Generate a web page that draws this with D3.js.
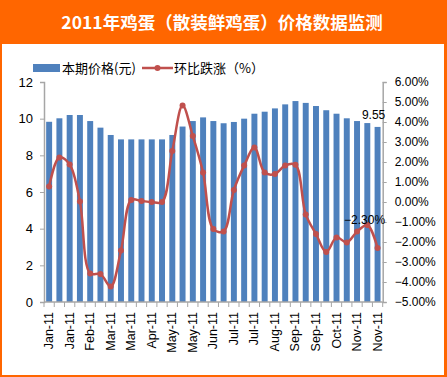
<!DOCTYPE html>
<html>
<head>
<meta charset="utf-8">
<script src="https://cdn.jsdelivr.net/npm/d3@7"></script>
<style>
  body { margin: 0; background: #fff; }
  svg { display: block; }
</style>
</head>
<body>
<div id="chart"></div>
<script>
// weekly egg prices, 2011
const priceValues = [9.83, 10.02, 10.2, 10.2, 9.87, 9.51, 9.11, 8.87, 8.87, 8.87, 8.87,
  8.87, 9.11, 9.57, 9.87, 10.07, 9.87, 9.75, 9.82, 10.0, 10.27, 10.38, 10.56, 10.78,
  10.96, 10.86, 10.69, 10.46, 10.27, 10.02, 9.87, 9.76, 9.55];
const changeValues = [0.77, 2.23, 1.88, 0.02, -3.57, -3.6, -4.23, -2.43, 0.1, 0.05, 0.0,
  0.0, 2.55, 4.82, 3.3, 1.47, -1.35, -1.47, 0.6, 1.82, 2.72, 1.47, 1.4, 1.83,
  1.86, -0.62, -1.6, -2.5, -1.77, -2.02, -1.48, -1.15, -2.3];
// x labels are shown on every other week
const tickLabels = ['Jan-11', 'Jan-11', 'Feb-11', 'Mar-11', 'Mar-11', 'Apr-11', 'May-11',
  'May-11', 'Jun-11', 'Jul-11', 'Jul-11', 'Aug-11', 'Sep-11', 'Sep-11', 'Oct-11',
  'Nov-11', 'Nov-11'];
const leftTicks = [0, 2, 4, 6, 8, 10, 12];
const rightTicks = [-5, -4, -3, -2, -1, 0, 1, 2, 3, 4, 5, 6];

const W = 447, H = 377;
const margin = { top: 82, right: 64.3, bottom: 75, left: 44 };
const width = W - margin.left - margin.right;
const height = H - margin.top - margin.bottom;

const svg = d3.select('#chart').append('svg')
  .attr('width', W)
  .attr('height', H);

// frame + title bar
svg.append('rect').attr('width', W).attr('height', H).attr('fill', '#FF6600');
svg.append('rect').attr('x', 2).attr('y', 44).attr('width', W - 5).attr('height', H - 46)
  .attr('fill', '#fff');
svg.append('text')
  .attr('x', 222).attr('y', 29)
  .attr('text-anchor', 'middle')
  .style('font-family', '"Noto Sans CJK SC", sans-serif')
  .style('font-weight', 'bold')
  .style('font-size', '17.5px')
  .attr('fill', '#fff')
  .text('2011年鸡蛋（散装鲜鸡蛋）价格数据监测');

const g = svg.append('g').attr('transform', `translate(${margin.left},${margin.top})`);

const idx = priceValues.map((_, i) => i);
const x = d3.scaleBand().domain(idx).range([0, width]).paddingInner(0.42).paddingOuter(0.21);
const step = x.step();
const yL = d3.scaleLinear().domain([0, 12]).range([height, 0]);
const yR = d3.scaleLinear().domain([-5, 6]).range([height, 0]);

const axisColor = '#A6A6A6';
const numFont = '"Liberation Sans", Arial, sans-serif';

// bars
g.selectAll('rect.bar')
  .data(priceValues)
  .join('rect')
  .attr('class', 'bar')
  .attr('x', (d, i) => x(i))
  .attr('y', d => yL(d))
  .attr('width', x.bandwidth())
  .attr('height', d => height - yL(d))
  .attr('fill', '#4F81BD');

// left axis
const left = g.append('g')
  .call(d3.axisLeft(yL).tickValues(leftTicks).tickSize(4).tickPadding(7));
left.selectAll('text').style('font-family', numFont).style('font-size', '13px').attr('fill', '#000');

// right axis
const right = g.append('g')
  .attr('transform', `translate(${width},0)`)
  .call(d3.axisRight(yR).tickValues(rightTicks).tickSize(4).tickPadding(8)
    .tickFormat(d => d3.format('.2f')(d) + '%'));
right.selectAll('text').style('font-family', numFont).style('font-size', '12px').attr('fill', '#000');

// x axis: ticks at week boundaries, labels on every other week
const bottom = g.append('g').attr('transform', `translate(0,${height})`);
bottom.append('line').attr('x1', 0).attr('x2', width).attr('stroke', axisColor).attr('stroke-width', 1.5);
bottom.selectAll('line.tick')
  .data(d3.range(priceValues.length + 1))
  .join('line')
  .attr('class', 'tick')
  .attr('x1', i => i * step).attr('x2', i => i * step)
  .attr('y1', 0).attr('y2', 5)
  .attr('stroke', axisColor);
bottom.selectAll('text.lab')
  .data(tickLabels)
  .join('text')
  .attr('class', 'lab')
  .attr('transform', (d, k) => `translate(${x(k * 2) + x.bandwidth() / 2 + 4},10) rotate(-90)`)
  .attr('text-anchor', 'end')
  .style('font-family', numFont)
  .style('font-size', '12.5px')
  .attr('fill', '#000')
  .text(d => d);

[left, right].forEach(a => {
  a.select('.domain').attr('stroke', axisColor).attr('stroke-width', 1.5);
  a.selectAll('.tick line').attr('stroke', axisColor);
});

// line
const cx = i => x(i) + x.bandwidth() / 2;
const line = d3.line()
  .x((d, i) => cx(i))
  .y(d => yR(d))
  .curve(d3.curveCatmullRom.alpha(0.5));
g.append('path')
  .datum(changeValues)
  .attr('d', line)
  .attr('fill', 'none')
  .attr('stroke', '#C0504D')
  .attr('stroke-width', 2.5);
g.selectAll('circle.pt')
  .data(changeValues)
  .join('circle')
  .attr('class', 'pt')
  .attr('cx', (d, i) => cx(i))
  .attr('cy', d => yR(d))
  .attr('r', 3)
  .attr('fill', '#C0504D');

// data labels on the last week
const last = priceValues.length - 1;
g.append('text')
  .attr('x', cx(last) - 4).attr('y', yL(priceValues[last]) - 8)
  .attr('text-anchor', 'middle')
  .style('font-family', numFont).style('font-size', '12px')
  .text(d3.format('.2f')(priceValues[last]));
g.append('text')
  .attr('x', cx(last) - 13).attr('y', yR(changeValues[last]) - 24)
  .attr('text-anchor', 'middle')
  .style('font-family', numFont).style('font-size', '12px')
  .text(d3.format('.2f')(changeValues[last]) + '%');

// legend
const legend = svg.append('g').attr('transform', 'translate(33,68)');
legend.append('rect').attr('x', 0).attr('y', -4).attr('width', 27).attr('height', 8).attr('fill', '#4F81BD');
legend.append('text').attr('x', 29).attr('y', 5)
  .style('font-family', '"Noto Sans CJK SC", sans-serif').style('font-size', '13px')
  .text('本期价格(元)');
legend.append('line').attr('x1', 109).attr('x2', 140).attr('y1', 0).attr('y2', 0)
  .attr('stroke', '#C0504D').attr('stroke-width', 2.5);
legend.append('circle').attr('cx', 124.5).attr('cy', 0).attr('r', 3).attr('fill', '#C0504D');
legend.append('text').attr('x', 141).attr('y', 5)
  .style('font-family', '"Noto Sans CJK SC", sans-serif').style('font-size', '13px')
  .text('环比跌涨（%）');
</script>
</body>
</html>
